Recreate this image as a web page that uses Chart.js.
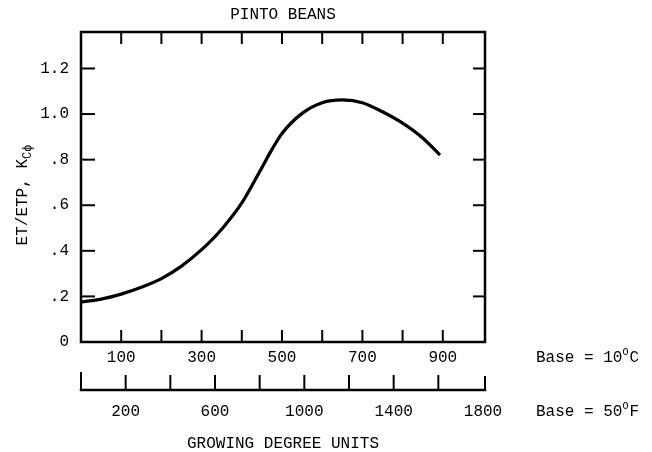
<!DOCTYPE html>
<html>
<head>
<meta charset="utf-8">
<title>Pinto beans</title>
<script src="https://cdn.jsdelivr.net/npm/chart.js@4.4.1/dist/chart.umd.min.js"></script>
<style>
  body { margin: 0; background: #fff; }
  canvas { display: block; }
</style>
</head>
<body>
<canvas id="kcChart" width="652" height="452"></canvas>
<script>
// Data (growing degree units, base 10 C)
const gduC = [0, 50, 100, 150, 200, 250, 300, 350, 400, 450, 475, 500, 550, 600, 650, 700, 750, 800, 850, 893];
const kcValues = [0.175, 0.188, 0.21, 0.24, 0.278, 0.333, 0.405, 0.495, 0.61, 0.765, 0.845, 0.915, 1.003, 1.05, 1.062, 1.05, 1.01, 0.96, 0.895, 0.82];

// axes
const xLabelTicks = [100, 300, 500, 700, 900];
const xMinorTicks = [100, 200, 300, 400, 500, 600, 700, 800, 900];
const yTicks = [0, 0.2, 0.4, 0.6, 0.8, 1.0, 1.2];
const fLabelTicks = [200, 600, 1000, 1400, 1800];
const fMinorTicks = [200, 400, 600, 800, 1000, 1200, 1400, 1600];
const xMaxC = 1005;
const xMaxF = xMaxC * 1.8;
const yMax = 1.36;

const FONT = "'Liberation Mono', 'Courier New', monospace";
const FS = 16;
const INK = '#000';

function line(ctx, x1, y1, x2, y2) {
    ctx.beginPath();
    ctx.moveTo(x1, y1);
    ctx.lineTo(x2, y2);
    ctx.stroke();
}

// frame, inward ticks and the second (Fahrenheit) scale line
const framePlugin = {
    id: 'frame',
    afterDatasetsDraw(chart) {
        const { ctx, chartArea: a, scales } = chart;
        ctx.save();
        ctx.strokeStyle = INK;
        ctx.lineCap = 'square';
        ctx.lineWidth = 2.5;
        ctx.strokeRect(a.left, a.top, a.right - a.left, a.bottom - a.top);

        ctx.lineWidth = 2;
        ctx.lineCap = 'butt';
        xMinorTicks.forEach(v => {
            const px = scales.x.getPixelForValue(v);
            line(ctx, px, a.bottom, px, a.bottom - 12);
            line(ctx, px, a.top, px, a.top + 12);
        });
        yTicks.slice(1).forEach(v => {
            const py = scales.y.getPixelForValue(v);
            line(ctx, a.left, py, a.left + 14, py);
            line(ctx, a.right, py, a.right - 12, py);
        });

        // Fahrenheit scale
        const f = scales.xF;
        const fy = 390;
        const fl = f.getPixelForValue(0);
        const fr = f.getPixelForValue(xMaxF);
        ctx.lineWidth = 2.5;
        ctx.lineCap = 'square';
        line(ctx, fl, fy, fr, fy);
        ctx.lineWidth = 2;
        line(ctx, fl, fy, fl, fy - 17);
        line(ctx, fr, fy, fr, fy - 13);
        fMinorTicks.forEach(v => {
            const px = f.getPixelForValue(v);
            line(ctx, px, fy, px, fy - 14);
        });
        ctx.restore();
    }
};

// title, y-axis title with subscript, base notes
const textPlugin = {
    id: 'texts',
    afterDraw(chart) {
        const { ctx, chartArea: a } = chart;
        ctx.save();
        ctx.fillStyle = INK;
        ctx.textBaseline = 'middle';

        ctx.font = FS + 'px ' + FONT;
        ctx.textAlign = 'center';
        ctx.fillText('PINTO BEANS', (a.left + a.right) / 2, 15);

        // ET/ETP, K_C phi (rotated)
        ctx.save();
        ctx.translate(22, 195);
        ctx.rotate(-Math.PI / 2);
        ctx.textAlign = 'left';
        ctx.textBaseline = 'alphabetic';
        const main = 'ET/ETP, K';
        ctx.font = FS + 'px ' + FONT;
        const w1 = ctx.measureText(main).width;
        ctx.font = '12px ' + FONT;
        const w2 = ctx.measureText('C\u03d5').width;
        const x0 = -(w1 + w2) / 2;
        ctx.font = FS + 'px ' + FONT;
        ctx.fillText(main, x0, 5);
        ctx.font = '12px ' + FONT;
        ctx.fillText('C\u03d5', x0 + w1, 9);
        ctx.restore();

        // Base notes
        ctx.textAlign = 'left';
        drawBase(ctx, 'Base = 10', 'C', 536, 358);
        drawBase(ctx, 'Base = 50', 'F', 536, 412);
        ctx.restore();
    }
};

function drawBase(ctx, head, unit, x, y) {
    ctx.font = FS + 'px ' + FONT;
    ctx.fillText(head, x, y);
    let px = x + ctx.measureText(head).width;
    ctx.font = '10px ' + FONT;
    ctx.fillText('O', px, y - 6);
    px += ctx.measureText('O').width + 1;
    ctx.font = FS + 'px ' + FONT;
    ctx.fillText(unit, px, y);
}

const points = gduC.map((g, i) => ({ x: g, y: kcValues[i] }));

new Chart(document.getElementById('kcChart').getContext('2d'), {
    type: 'line',
    data: {
        datasets: [{
            data: points,
            borderColor: INK,
            borderWidth: 3.2,
            pointRadius: 0,
            fill: false,
            cubicInterpolationMode: 'monotone'
        }]
    },
    options: {
        responsive: false,
        animation: false,
        devicePixelRatio: 1,
        layout: { padding: { top: 32, right: 167, left: 0, bottom: 0 } },
        plugins: {
            legend: { display: false },
            title: { display: false },
            tooltip: { enabled: false }
        },
        scales: {
            x: {
                type: 'linear',
                position: 'bottom',
                weight: 0,
                min: 0,
                max: xMaxC,
                grid: { display: false, drawTicks: false },
                border: { display: false },
                afterBuildTicks: s => { s.ticks = xLabelTicks.map(v => ({ value: v })); },
                afterFit: s => { s.height = 30; },
                ticks: {
                    maxRotation: 0,
                    padding: 6,
                    color: INK,
                    font: { family: FONT, size: FS },
                    callback: v => String(v)
                }
            },
            xF: {
                type: 'linear',
                position: 'bottom',
                weight: 1,
                min: 0,
                max: xMaxF,
                grid: { display: false, drawTicks: false },
                border: { display: false },
                afterBuildTicks: s => { s.ticks = fLabelTicks.map(v => ({ value: v })); },
                afterFit: s => { s.height = 80; },
                ticks: {
                    maxRotation: 0,
                    padding: 30,
                    color: INK,
                    font: { family: FONT, size: FS },
                    callback: v => String(v)
                },
                title: {
                    display: true,
                    text: 'GROWING DEGREE UNITS',
                    color: INK,
                    padding: 0,
                    font: { family: FONT, size: FS, lineHeight: 1 }
                }
            },
            y: {
                min: 0,
                max: yMax,
                grid: { display: false, drawTicks: false },
                border: { display: false },
                afterBuildTicks: s => { s.ticks = yTicks.map(v => ({ value: v })); },
                afterFit: s => { s.width = 81; },
                ticks: {
                    padding: 12,
                    color: INK,
                    font: { family: FONT, size: FS },
                    callback: v => v === 0 ? '0' : v.toFixed(1).replace(/^0/, '')
                }
            }
        }
    },
    plugins: [framePlugin, textPlugin]
});
</script>
</body>
</html>
